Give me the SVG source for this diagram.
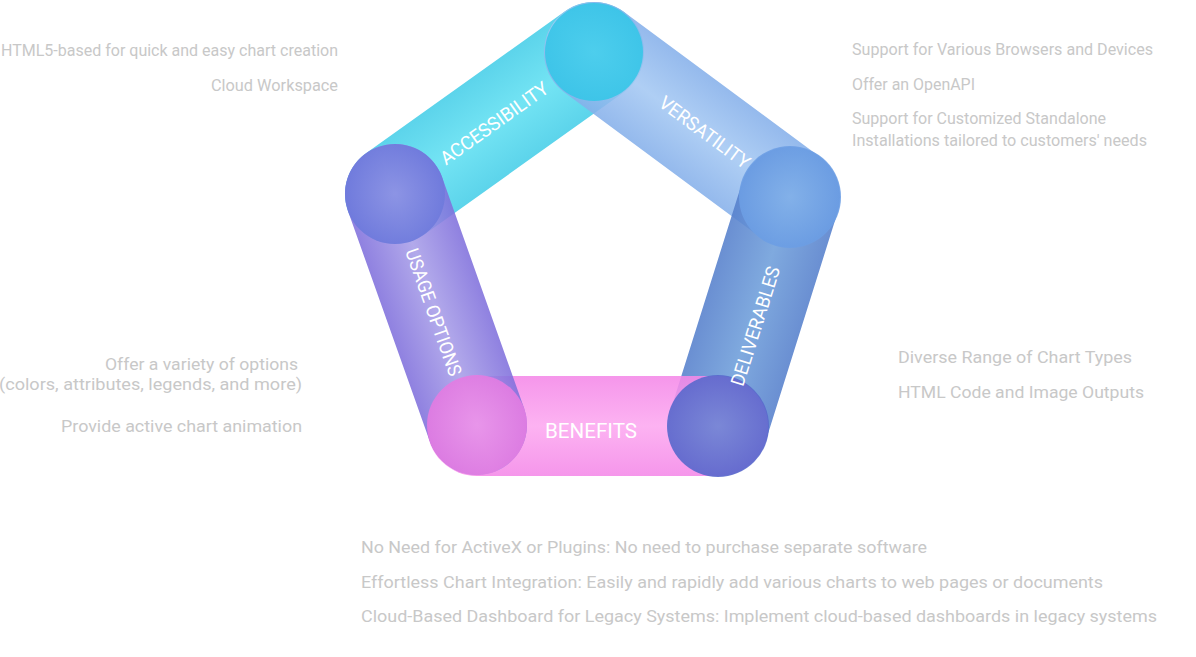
<svg xmlns="http://www.w3.org/2000/svg" width="1196" height="657" viewBox="0 0 1196 657">
<defs>
<linearGradient id="gAcc" x1="0" y1="0" x2="0" y2="1"><stop offset="0" stop-color="#46CEE8"/><stop offset="0.5" stop-color="#60E0F2"/><stop offset="1" stop-color="#46CEE8"/></linearGradient>
<linearGradient id="gVer" x1="0" y1="0" x2="0" y2="1"><stop offset="0" stop-color="#86B0EA"/><stop offset="0.5" stop-color="#A4C8F3"/><stop offset="1" stop-color="#86B0EA"/></linearGradient>
<linearGradient id="gDel" x1="0" y1="0" x2="0" y2="1"><stop offset="0" stop-color="#5680CC"/><stop offset="0.5" stop-color="#6E9EDA"/><stop offset="1" stop-color="#5680CC"/></linearGradient>
<linearGradient id="gBen" x1="0" y1="0" x2="0" y2="1"><stop offset="0" stop-color="#F488E8"/><stop offset="0.5" stop-color="#FCA8F0"/><stop offset="1" stop-color="#F488E8"/></linearGradient>
<linearGradient id="gUse" x1="0" y1="0" x2="0" y2="1"><stop offset="0" stop-color="#8070DC"/><stop offset="0.5" stop-color="#A89EE8"/><stop offset="1" stop-color="#8070DC"/></linearGradient>
<radialGradient id="cAcc"><stop offset="0" stop-color="#44CEEC"/><stop offset="1" stop-color="#36C6E8"/></radialGradient>
<radialGradient id="cVer"><stop offset="0" stop-color="#84B2EA"/><stop offset="1" stop-color="#6C9EE4"/></radialGradient>
<radialGradient id="cDel"><stop offset="0" stop-color="#6E84D4"/><stop offset="1" stop-color="#5868CC"/></radialGradient>
<radialGradient id="cBen"><stop offset="0" stop-color="#EE94EA"/><stop offset="1" stop-color="#E47CE2"/></radialGradient>
<radialGradient id="cUse"><stop offset="0" stop-color="#8A92E4"/><stop offset="1" stop-color="#6E7ADC"/></radialGradient>
</defs>
<style>
.bar{opacity:0.88}
.cap{opacity:0.9}
.lbl{font-family:Roboto,"Open Sans",sans-serif;font-weight:400;font-size:19px;fill:#ffffff;text-anchor:middle}
.d{font-family:Roboto,"Liberation Sans",sans-serif;font-size:16px;fill:#c8c8c8}
.e{text-anchor:end}
</style>
<rect width="1196" height="657" fill="#ffffff"/>
<g id="connectors">
<g id="bar-accessibility" class="bar" transform="translate(395,194) rotate(-35.5)"><rect x="-50" y="-50" width="344.5" height="100" rx="50" fill="url(#gAcc)"/></g>
<g id="bar-versatility" class="bar" transform="translate(594,52) rotate(36.5)"><rect x="-50" y="-50" width="343.8" height="100" rx="50" fill="url(#gVer)"/></g>
<g id="bar-deliverables" class="bar" transform="translate(790,197) rotate(107.45)"><rect x="-50" y="-50" width="340" height="100" rx="50" fill="url(#gDel)"/></g>
<g id="bar-benefits" class="bar" transform="translate(477,426)"><rect x="-50" y="-50" width="341" height="100" rx="50" fill="url(#gBen)"/></g>
<g id="bar-usage" class="bar" transform="translate(395,194) rotate(70.45)"><rect x="-50" y="-50" width="345" height="100" rx="50" fill="url(#gUse)"/></g>
</g>
<g id="node-accessibility">
<circle class="cap" cx="594" cy="52" r="49" fill="url(#cAcc)"/>
<text class="lbl" transform="translate(494,123) rotate(-35.5)" y="7" textLength="128" lengthAdjust="spacingAndGlyphs">ACCESSIBILITY</text>
</g>
<g id="node-versatility">
<circle class="cap" cx="790" cy="197" r="51" fill="url(#cVer)"/>
<text class="lbl" transform="translate(705,132) rotate(36.5)" y="7" textLength="108" lengthAdjust="spacingAndGlyphs">VERSATILITY</text>
</g>
<g id="node-deliverables">
<circle class="cap" cx="718" cy="426" r="51" fill="url(#cDel)"/>
<text class="lbl" transform="translate(755,326) rotate(-72.5)" y="7" textLength="124" lengthAdjust="spacingAndGlyphs">DELIVERABLES</text>
</g>
<g id="node-benefits">
<circle class="cap" cx="477" cy="425" r="50" fill="url(#cBen)"/>
<text class="lbl" x="591" y="438" textLength="92" lengthAdjust="spacingAndGlyphs" style="font-size:21px">BENEFITS</text>
</g>
<g id="node-usage">
<circle class="cap" cx="395" cy="194" r="50" fill="url(#cUse)"/>
<text class="lbl" transform="translate(434,312) rotate(70.5)" y="7" textLength="134" lengthAdjust="spacingAndGlyphs">USAGE OPTIONS</text>
</g>
<g id="text-accessibility">
<text class="d e" x="338" y="56" textLength="337" lengthAdjust="spacingAndGlyphs">HTML5-based for quick and easy chart creation</text>
<text class="d e" x="338" y="91" textLength="127" lengthAdjust="spacingAndGlyphs">Cloud Workspace</text>
</g>
<g id="text-versatility">
<text class="d" x="852" y="55" textLength="301" lengthAdjust="spacingAndGlyphs">Support for Various Browsers and Devices</text>
<text class="d" x="852" y="90" textLength="123" lengthAdjust="spacingAndGlyphs">Offer an OpenAPI</text>
<text class="d" x="852" y="124" textLength="254" lengthAdjust="spacingAndGlyphs">Support for Customized Standalone</text>
<text class="d" x="852" y="146" textLength="295" lengthAdjust="spacingAndGlyphs">Installations tailored to customers' needs</text>
</g>
<g id="text-usage">
<text class="d e" x="298" y="370" textLength="193" lengthAdjust="spacingAndGlyphs">Offer a variety of options</text>
<text class="d e" x="302" y="390" textLength="303" lengthAdjust="spacingAndGlyphs">(colors, attributes, legends, and more)</text>
<text class="d e" x="302" y="432" textLength="241" lengthAdjust="spacingAndGlyphs">Provide active chart animation</text>
</g>
<g id="text-deliverables">
<text class="d" x="898" y="363" textLength="234" lengthAdjust="spacingAndGlyphs">Diverse Range of Chart Types</text>
<text class="d" x="898" y="398" textLength="246" lengthAdjust="spacingAndGlyphs">HTML Code and Image Outputs</text>
</g>
<g id="text-benefits">
<text class="d" x="361" y="553" textLength="566" lengthAdjust="spacingAndGlyphs">No Need for ActiveX or Plugins: No need to purchase separate software</text>
<text class="d" x="361" y="588" textLength="742" lengthAdjust="spacingAndGlyphs">Effortless Chart Integration: Easily and rapidly add various charts to web pages or documents</text>
<text class="d" x="361" y="622" textLength="796" lengthAdjust="spacingAndGlyphs">Cloud-Based Dashboard for Legacy Systems: Implement cloud-based dashboards in legacy systems</text>
</g>
</svg>
